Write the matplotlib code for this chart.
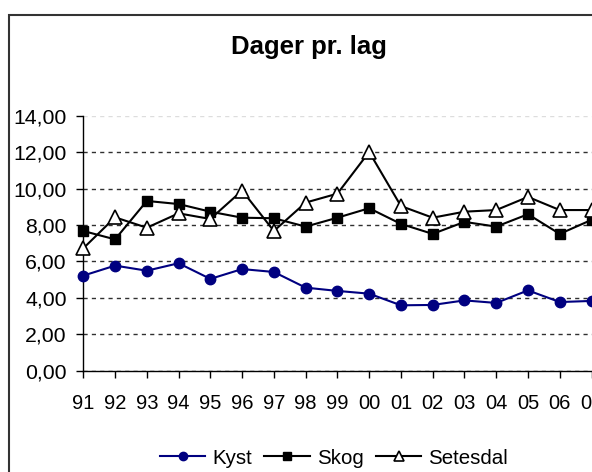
import matplotlib
matplotlib.use("Agg")
import matplotlib.pyplot as plt
from matplotlib.patches import Rectangle
from matplotlib.ticker import FuncFormatter

# Dager pr. lag, 1991-2007
years = ["91", "92", "93", "94", "95", "96", "97", "98", "99",
         "00", "01", "02", "03", "04", "05", "06", "07"]
kyst = [5.22, 5.77, 5.49, 5.90, 5.04, 5.58, 5.42, 4.56, 4.38,
        4.23, 3.59, 3.61, 3.86, 3.72, 4.41, 3.77, 3.83]
skog = [7.67, 7.21, 9.32, 9.15, 8.73, 8.40, 8.37, 7.91, 8.40,
        8.92, 8.06, 7.51, 8.17, 7.91, 8.59, 7.51, 8.28]
setesdal = [6.72, 8.42, 7.85, 8.64, 8.33, 9.89, 7.67, 9.23, 9.72,
            12.01, 9.04, 8.40, 8.73, 8.82, 9.54, 8.82, 8.82]
yticks = [0, 2, 4, 6, 8, 10, 12, 14]

plt.rcParams['font.family'] = ['Liberation Sans', 'DejaVu Sans']

W, H = 592, 472
fig = plt.figure(figsize=(W / 100, H / 100), dpi=100)
ax = fig.add_axes([83.3 / W, 1 - 370.7 / H, 508.2 / W, 255.0 / H])

x = list(range(len(years)))
ax.plot(x, kyst, color='#000080', lw=1.5, marker='o', ms=7.5,
        mfc='#000080', mec='#000080', label='Kyst', clip_on=False, zorder=3)
ax.plot(x, skog, color='black', lw=1.5, marker='s', ms=7.5,
        mfc='black', mec='black', label='Skog', clip_on=False, zorder=3)
ax.plot(x, setesdal, color='black', lw=1.5, marker='^', ms=9.5,
        mfc='white', mec='black', mew=1.2, label='Setesdal', clip_on=False, zorder=4)

ax.set_xlim(0, len(years) - 1)
ax.set_ylim(0, 14)
ax.set_xticks(x)
ax.set_xticklabels(years)
ax.set_yticks(yticks)
ax.yaxis.set_major_formatter(FuncFormatter(lambda v, p: f"{v:.2f}".replace('.', ',')))

ax.tick_params(axis='x', length=5, width=1, pad=12, labelsize=14.5)
ax.tick_params(axis='y', length=5, width=1, pad=7, labelsize=15.3)

ax.yaxis.grid(True, color='#303030', linestyle=(0, (3, 3)), lw=1)
ax.get_ygridlines()[-1].set_color('#dddddd')
ax.set_axisbelow(True)

for s in ['top', 'right']:
    ax.spines[s].set_visible(False)
for s in ['left', 'bottom']:
    ax.spines[s].set_linewidth(1)

fig.text(308.5 / W, 1 - 54 / H, "Dager pr. lag", ha='center', va='baseline',
         fontsize=18.5, fontweight='bold')

fig.legend(loc='center', bbox_to_anchor=(334 / W, 1 - 458 / H), ncol=3,
           frameon=False, fontsize=14.8, handlelength=2.2, handletextpad=0.35,
           columnspacing=0.6, markerscale=0.8)

# chart area frame (runs off the right and bottom edge)
fig.patches.append(Rectangle((9 / W, -0.2), 2, 1.2 - 15 / H, transform=fig.transFigure,
                             fill=False, edgecolor='#333333', lw=1.5))

fig.savefig("out.png", dpi=100)
